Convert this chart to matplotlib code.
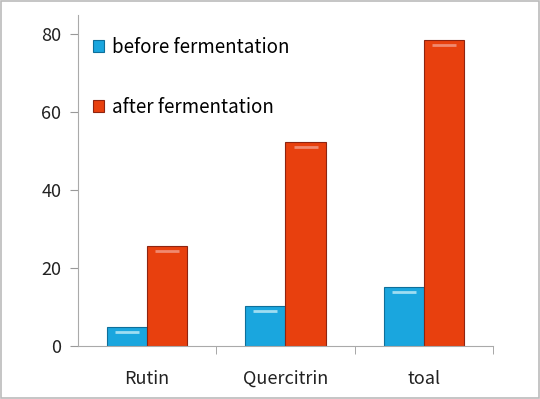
import matplotlib.pyplot as plt
import matplotlib.patches as patches
import numpy as np

# 數據
categories = ['Rutin', 'Quercitrin', 'toal']
before_vals = [4.9, 10.3, 15.2]
after_vals = [25.7, 52.4, 78.5]
series_names = ['before fermentation', 'after fermentation']
yticks = [0, 20, 40, 60, 80]

plt.rcParams['font.family'] = ['Noto Sans CJK KR', 'DejaVu Sans']

fig = plt.figure(figsize=(5.4, 3.99), dpi=100)
ax = fig.add_axes([0.1444, 0.1328, 0.7686, 0.8296])

x = np.arange(len(categories))
w = 0.29
blue, blue_edge = '#1AA6DE', '#0E6F9A'
red, red_edge = '#E8400E', '#8E2410'

b1 = ax.bar(x - w/2, before_vals, w, color=blue, edgecolor=blue_edge, linewidth=0.8,
            label=series_names[0])
b2 = ax.bar(x + w/2, after_vals, w, color=red, edgecolor=red_edge, linewidth=0.8,
            label=series_names[1])

# 斜面高光 (模仿原圖的立體效果)
for bars, hl in ((b1, '#9FDDF2'), (b2, '#F08A70')):
    for r in bars:
        bx, bw, bh = r.get_x(), r.get_width(), r.get_height()
        ax.plot([bx + bw*0.2, bx + bw*0.8], [bh - 1.3, bh - 1.3], color=hl, lw=2,
                solid_capstyle='butt', zorder=3)

ax.set_xlim(-0.5, 2.5)
ax.set_ylim(0, 85)
ax.set_yticks(yticks)
ax.set_xticks(x)
ax.set_xticklabels(categories)
ax.set_xticks([0.5, 1.5, 2.5], minor=True)
ax.tick_params(axis='x', which='major', length=0, pad=17, labelsize=13, colors='#222222')
ax.tick_params(axis='x', which='minor', length=6, color='#999999', direction='out')
ax.tick_params(axis='y', length=6, color='#999999', direction='out', pad=6,
               labelsize=13, labelcolor='#222222')

for s in ['top', 'right']:
    ax.spines[s].set_visible(False)
ax.spines['left'].set_color('#aaaaaa')
ax.spines['bottom'].set_color('#aaaaaa')

leg = ax.legend(loc='upper left', bbox_to_anchor=(0.035, 0.935), frameon=False,
                fontsize=13.5, handlelength=0.6, handleheight=0.6, handletextpad=0.45,
                labelspacing=2.1, borderaxespad=0.0, borderpad=0.0)

# 外框
fig.patches.append(patches.Rectangle((0.002, 0.003), 0.996, 0.994, transform=fig.transFigure,
                                     fill=False, edgecolor='#bbbbbb', linewidth=1.2))

fig.savefig('out.png', dpi=100)
